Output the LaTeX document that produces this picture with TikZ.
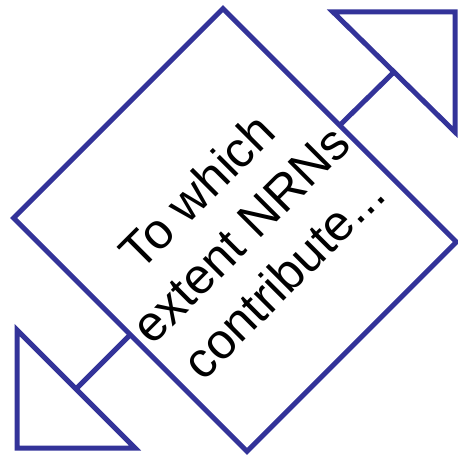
\documentclass[tikz,border=0pt]{standalone}
\usepackage{fontspec}
\setmainfont{Liberation Sans}
\usetikzlibrary{calc}
\definecolor{navy}{RGB}{51,51,153}
\begin{document}
\begin{tikzpicture}[x=1pt,y=-1pt,
  edge/.style={draw=navy,line width=5pt},
  box/.style={edge,rectangle,rotate=45,minimum width=296pt,minimum height=330pt,inner sep=0pt,outer sep=0pt},
  qtext/.style={rotate=45,align=center,font=\fontsize{50}{61}\selectfont,inner sep=0pt}]
\useasboundingbox (0,0) rectangle (458,457);
\node[box] (q) at (235,230) {};
\node[qtext] (t) at (240,234) {To which\\extent NRNs\\contribute...};
% top-right triangle
\coordinate (a1) at (333,12);
\coordinate (a2) at (455,12);
\coordinate (a3) at (455,132);
\coordinate (am) at ($(a1)!0.5!(a3)$);
\draw[edge] (a1) -- (a2) -- (a3) -- cycle;
\draw[edge] (am) -- (q.east);
% bottom-left triangle
\coordinate (b1) at (17,330);
\coordinate (b2) at (17,448);
\coordinate (b3) at (135,448);
\coordinate (bm) at ($(b1)!0.5!(b3)$);
\draw[edge] (b1) -- (b2) -- (b3) -- cycle;
\draw[edge] (bm) -- (q.west);
\end{tikzpicture}
\end{document}
